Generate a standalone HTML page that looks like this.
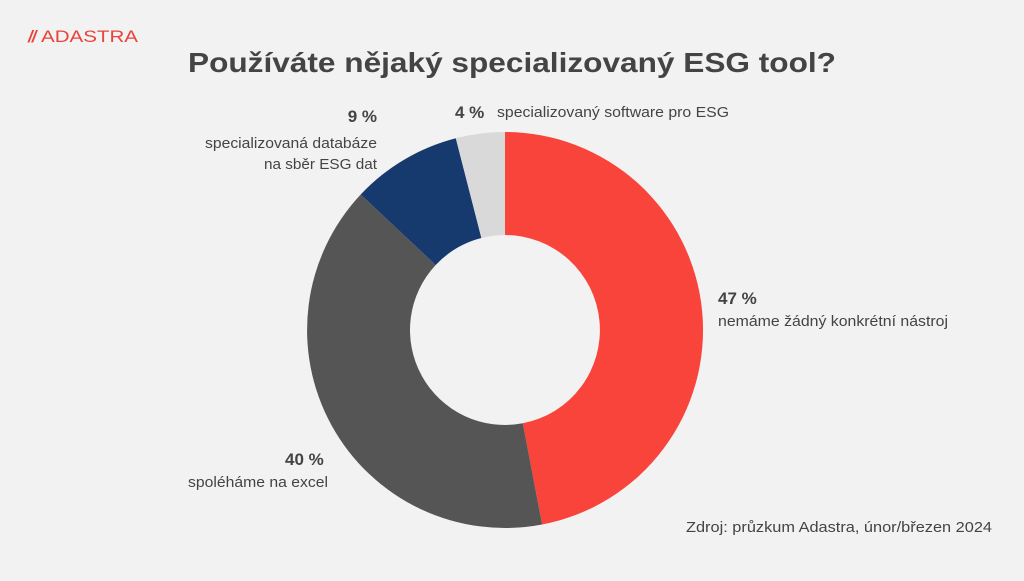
<!DOCTYPE html>
<html><head><meta charset="utf-8"><style>
html,body{margin:0;padding:0;background:#f2f2f2;}
body{width:1024px;height:576px;overflow:hidden;}
text{font-family:"Liberation Sans",sans-serif;}
</style></head><body>
<svg width="1024" height="576" viewBox="0 0 1024 576" xmlns="http://www.w3.org/2000/svg">
<rect width="1024" height="576" fill="#f2f2f2"/>
<text x="28" y="42" font-size="17" font-weight="bold" fill="#e8443c" font-style="italic" letter-spacing="-1">//</text>
<text x="41" y="42" font-size="17" fill="#e8443c" textLength="97" lengthAdjust="spacingAndGlyphs">ADASTRA</text>
<text x="188" y="72" font-size="28" font-weight="bold" fill="#444" textLength="648" lengthAdjust="spacingAndGlyphs">Používáte nějaký specializovaný ESG tool?</text>
<path d="M505,132 A198,198 0 0 1 542.1,524.5 L522.8,423.3 A95,95 0 0 0 505,235 Z" fill="#f8443b"/>
<path d="M542.1,524.5 A198,198 0 0 1 360.7,194.5 L435.7,265 A95,95 0 0 0 522.8,423.3 Z" fill="#555555"/>
<path d="M360.7,194.5 A198,198 0 0 1 455.8,138.2 L481.4,238 A95,95 0 0 0 435.7,265 Z" fill="#173a6e"/>
<path d="M455.8,138.2 A198,198 0 0 1 505,132 L505,235 A95,95 0 0 0 481.4,238 Z" fill="#d9d9d9"/>
<g fill="#444">
<text x="377" y="122" text-anchor="end" font-size="17" font-weight="bold">9 %</text>
<text x="205" y="148" font-size="15" textLength="172" lengthAdjust="spacingAndGlyphs">specializovaná databáze</text>
<text x="264" y="169" font-size="15" textLength="113" lengthAdjust="spacingAndGlyphs">na sběr ESG dat</text>
<text x="455" y="118" font-size="17" font-weight="bold">4 %</text>
<text x="497" y="117" font-size="15" textLength="232" lengthAdjust="spacingAndGlyphs">specializovaný software pro ESG</text>
<text x="718" y="304" font-size="17" font-weight="bold">47 %</text>
<text x="718" y="326" font-size="15" textLength="230" lengthAdjust="spacingAndGlyphs">nemáme žádný konkrétní nástroj</text>
<text x="285" y="465" font-size="17" font-weight="bold">40 %</text>
<text x="188" y="487" font-size="15" textLength="140" lengthAdjust="spacingAndGlyphs">spoléháme na excel</text>
<text x="686" y="532" font-size="15" textLength="306" lengthAdjust="spacingAndGlyphs">Zdroj: průzkum Adastra, únor/březen 2024</text>
</g>
</svg>
</body></html>
